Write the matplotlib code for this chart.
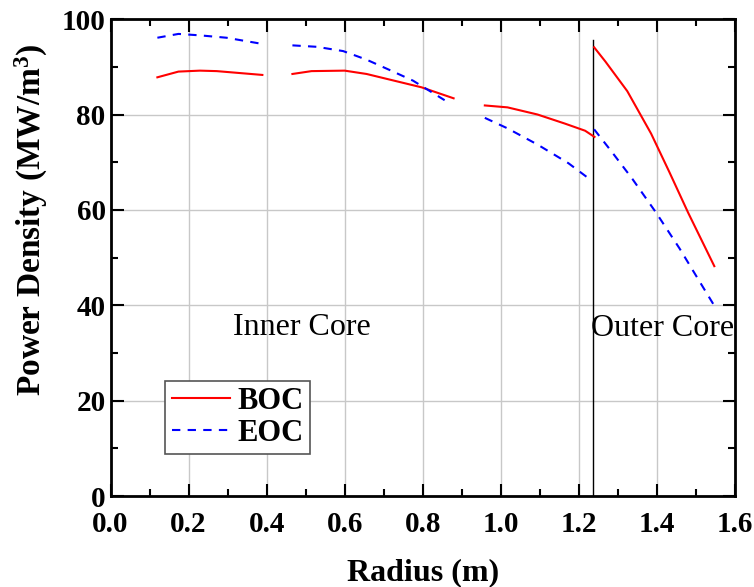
import matplotlib
matplotlib.use("Agg")
import matplotlib.pyplot as plt
from matplotlib.ticker import MultipleLocator

# BOC segments (radius m, power density MW/m3)
boc_r1 = [0.120, 0.174, 0.229, 0.272, 0.389]
boc_v1 = [87.8, 89.0, 89.2, 89.1, 88.3]
boc_r2 = [0.466, 0.515, 0.600, 0.656, 0.797, 0.879]
boc_v2 = [88.5, 89.1, 89.2, 88.5, 85.7, 83.4]
boc_r3 = [0.959, 1.017, 1.094, 1.164, 1.216, 1.240]
boc_v3 = [81.9, 81.5, 80.0, 78.1, 76.6, 75.3]
boc_r4 = [1.239, 1.268, 1.324, 1.385, 1.432, 1.480, 1.547]
boc_v4 = [94.1, 91.1, 84.9, 76.0, 67.9, 59.4, 48.2]

# EOC segments
eoc_r1 = [0.120, 0.174, 0.229, 0.297, 0.389]
eoc_v1 = [96.1, 96.9, 96.6, 96.1, 94.8]
eoc_r2 = [0.466, 0.528, 0.596, 0.656, 0.716, 0.775, 0.856]
eoc_v2 = [94.5, 94.2, 93.3, 91.5, 89.3, 87.1, 83.0]
eoc_r3 = [0.959, 1.017, 1.094, 1.173, 1.230]
eoc_v3 = [79.3, 77.1, 73.7, 69.8, 66.3]
eoc_r4 = [1.239, 1.285, 1.337, 1.398, 1.458, 1.518, 1.547]
eoc_v4 = [76.9, 72.1, 66.5, 59.4, 51.9, 43.8, 39.9]

boundary_r = 1.237
boundary_top = 95.6

plt.rcParams['font.family'] = ['Liberation Serif', 'DejaVu Serif']
plt.rcParams['mathtext.fontset'] = 'custom'
plt.rcParams['mathtext.rm'] = 'Liberation Serif'
plt.rcParams['mathtext.bf'] = 'Liberation Serif:bold'

fig = plt.figure(figsize=(7.54, 5.87), dpi=100)
ax = fig.add_axes([0.1466, 0.155, 0.8282, 0.8124])

ax.grid(True, color='#c8c8c8', linewidth=1.0, zorder=0)
ax.set_axisbelow(True)

blue_dash = (0, (4, 3.5))
ax.plot(boc_r1, boc_v1, color='red', lw=1.5, label='BOC', zorder=3)
ax.plot(eoc_r1, eoc_v1, color='blue', lw=1.5, ls=blue_dash, label='EOC', zorder=3)
for r, v in [(boc_r2, boc_v2), (boc_r3, boc_v3), (boc_r4, boc_v4)]:
    ax.plot(r, v, color='red', lw=1.5, zorder=3)
for r, v in [(eoc_r2, eoc_v2), (eoc_r3, eoc_v3), (eoc_r4, eoc_v4)]:
    ax.plot(r, v, color='blue', lw=1.5, ls=blue_dash, zorder=3)

ax.plot([boundary_r, boundary_r], [0, boundary_top], color='black', lw=1.0, zorder=2)

ax.text(0.314, 35.4, 'Inner Core', fontsize=23, va='center', ha='left')
ax.text(1.232, 35.2, 'Outer Core', fontsize=23, va='center', ha='left')

ax.set_xlim(0, 1.6)
ax.set_ylim(0, 100)
ax.xaxis.set_major_locator(MultipleLocator(0.2))
ax.xaxis.set_minor_locator(MultipleLocator(0.1))
ax.yaxis.set_major_locator(MultipleLocator(20))
ax.yaxis.set_minor_locator(MultipleLocator(10))
ax.set_xticklabels([f'{v:.1f}' for v in ax.get_xticks()])
ax.tick_params(which='both', direction='in', top=True, right=True, labelsize=21, width=1.5)
ax.tick_params(which='major', length=9)
ax.tick_params(which='minor', length=5)
ax.tick_params(axis='x', pad=11)
for lab in ax.get_xticklabels() + ax.get_yticklabels():
    lab.set_fontweight('bold')
for s in ax.spines.values():
    s.set_linewidth(2)

ax.set_xlabel('Radius (m)', fontsize=23, fontweight='bold', labelpad=14)
ax.set_ylabel(r'Power Density (MW/m$\mathbf{^3}$)', fontsize=24, fontweight='bold', labelpad=6)
ax.yaxis.set_label_coords(-0.097, 0.58)

leg = ax.legend(loc='lower left', bbox_to_anchor=(0.088, 0.088),
                prop={'weight': 'bold', 'size': 22}, frameon=True, fancybox=False,
                edgecolor='#555555', framealpha=1, handlelength=1.9, borderpad=0.2,
                labelspacing=0.1, handletextpad=0.25, borderaxespad=0)
leg.get_frame().set_linewidth(1.2)

fig.savefig('out.png', dpi=100)
